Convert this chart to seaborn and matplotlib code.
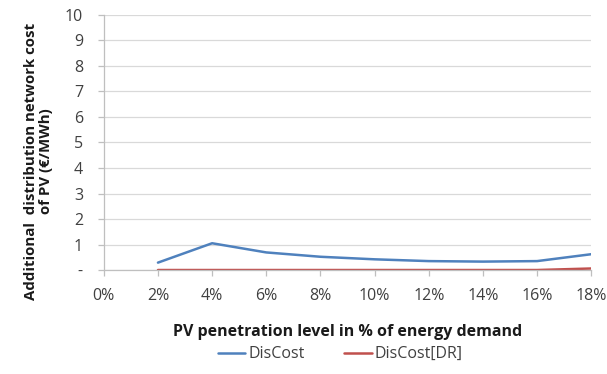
import matplotlib
matplotlib.use("Agg")
import matplotlib.pyplot as plt
import seaborn as sns
import pandas as pd

# PV penetration levels (% of energy demand) and additional network cost (EUR/MWh)
penetration = [2, 4, 6, 8, 10, 12, 14, 16, 18]
discost = [0.29, 1.05, 0.69, 0.52, 0.42, 0.35, 0.33, 0.35, 0.62]
discost_dr = [0.0, 0.0, 0.0, 0.0, 0.0, 0.0, 0.0, 0.0, 0.06]
series_names = ["DisCost", "DisCost[DR]"]
x_ticks = [0, 2, 4, 6, 8, 10, 12, 14, 16, 18]
x_tick_labels = [f"{v}%" for v in x_ticks]
y_ticks = list(range(0, 11))
y_tick_labels = ["-"] + [str(v) for v in range(1, 11)]

df = pd.DataFrame({
    "level": penetration * 2,
    "cost": discost + discost_dr,
    "series": [series_names[0]] * len(penetration) + [series_names[1]] * len(penetration),
})

sns.set_theme(style="white")
plt.rcParams["font.family"] = ["Open Sans", "DejaVu Sans"]

fig = plt.figure(figsize=(6.07, 3.74), dpi=100)
ax = fig.add_axes([0.171, 0.278, 0.803, 0.682])

palette = {series_names[0]: "#4F81BD", series_names[1]: "#C0504D"}
sns.lineplot(data=df, x="level", y="cost", hue="series", palette=palette,
             linewidth=1.8, ax=ax, legend=True)

ax.set_xlim(0, 18)
ax.set_ylim(0, 10)
ax.set_xticks(x_ticks)
ax.set_xticklabels(x_tick_labels)
ax.set_yticks(y_ticks)
ax.set_yticklabels(y_tick_labels)
ax.yaxis.grid(True, color="#d9d9d9", linewidth=0.9)
ax.set_axisbelow(True)

for side in ["top", "right"]:
    ax.spines[side].set_visible(False)
for side in ["left", "bottom"]:
    ax.spines[side].set_color("#bfbfbf")
    ax.spines[side].set_linewidth(0.9)

ax.tick_params(axis="both", which="major", labelsize=11.5, colors="#bfbfbf",
               labelcolor="#404040", length=4, width=0.9, direction="out")
ax.tick_params(axis="x", pad=9)
ax.tick_params(axis="y", pad=11)
ax.xaxis.set_ticks_position("bottom")
ax.yaxis.set_ticks_position("left")

ax.set_xlabel("PV penetration level in % of energy demand", fontsize=11.5,
              fontweight="bold", color="#1a1a1a", labelpad=14)
ax.set_ylabel("Additional  distribution network cost\nof PV (€/MWh)", fontsize=10.8,
              fontweight="bold", color="#1a1a1a", linespacing=1.05)
ax.yaxis.set_label_coords(-0.105, 0.425)

handles, labels = ax.get_legend_handles_labels()
ax.legend(handles, labels, loc="center", bbox_to_anchor=(0.485, -0.33), ncol=2,
          frameon=False, fontsize=11.5, handlelength=1.7, handletextpad=0.2,
          columnspacing=2.5, labelcolor="#404040")

fig.savefig("out.png", dpi=100)
